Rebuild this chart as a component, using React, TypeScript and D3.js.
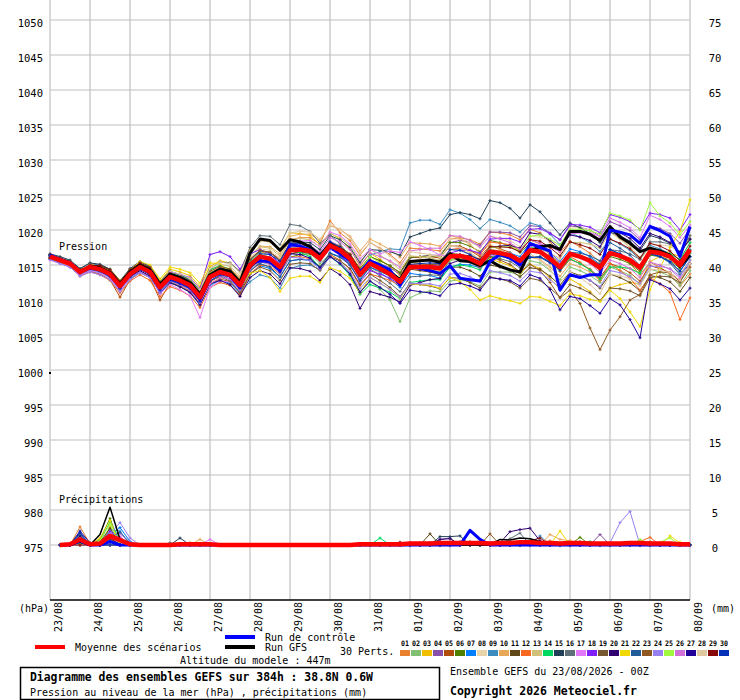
import { useMemo } from 'react';
import { scaleLinear, line } from 'd3';

// 6-hourly steps, 0h .. 384h (65 steps); dates at every 4th step
const dates = ['23/08', '24/08', '25/08', '26/08', '27/08', '28/08', '29/08', '30/08', '31/08',
  '01/09', '02/09', '03/09', '04/09', '05/09', '06/09', '07/09', '08/09'];
const pressureTicks = [975, 980, 985, 990, 995, 1000, 1005, 1010, 1015, 1020, 1025, 1030, 1035, 1040, 1045, 1050];
const precipTicks = [0, 5, 10, 15, 20, 25, 30, 35, 40, 45, 50, 55, 60, 65, 70, 75];

const pertLabels = ['01', '02', '03', '04', '05', '06', '07', '08', '09', '10', '11', '12', '13', '14', '15',
  '16', '17', '18', '19', '20', '21', '22', '23', '24', '25', '26', '27', '28', '29', '30'];
const pertColors = ['#e8802f', '#80c070', '#f0c000', '#8850a8', '#b04c0c', '#508000', '#0080ff', '#e8d4a8',
  '#3c8cc0', '#e8a858', '#604818', '#f86820', '#d0c078', '#00d860', '#204058', '#607078', '#e078f8',
  '#8020f8', '#785830', '#300070', '#f0d800', '#205c98', '#905820', '#9880f0', '#a0f840', '#d070d8',
  '#200098', '#e0c8a0', '#880808', '#0030b8'];

const meanPressure = [
  1016.2, 1015.7, 1015.2, 1014.0, 1014.7, 1014.4, 1013.7, 1012.0,
  1013.7, 1014.7, 1014.0, 1011.8, 1013.3, 1012.8, 1012.1, 1010.4,
  1013.3, 1014.0, 1013.6, 1012.1, 1015.0, 1016.2, 1015.9, 1014.7,
  1017.1, 1017.2, 1017.0, 1015.9, 1017.8, 1017.1, 1015.9, 1013.6,
  1015.2, 1014.5, 1013.7, 1012.6, 1014.7, 1014.7, 1014.7, 1014.5,
  1016.2, 1016.3, 1015.9, 1015.2, 1016.9, 1016.7, 1016.4, 1015.6,
  1017.1, 1016.9, 1015.9, 1014.7, 1016.6, 1016.2, 1015.6, 1014.6,
  1016.7, 1016.3, 1015.7, 1014.6, 1016.9, 1016.7, 1016.2, 1015.0,
  1017.2];

const controlPressure = [
  1016.4, 1015.8, 1015.3, 1014.1, 1014.6, 1014.3, 1013.6, 1011.9,
  1013.6, 1014.6, 1013.9, 1011.6, 1013.1, 1012.6, 1011.9, 1010.1,
  1013.2, 1013.9, 1013.4, 1011.8, 1015.2, 1015.6, 1015.5, 1014.2,
  1017.9, 1017.7, 1017.2, 1016.0, 1017.6, 1016.6, 1015.6, 1014.0,
  1015.6, 1015.0, 1014.3, 1012.1, 1014.8, 1014.5, 1014.2, 1013.8,
  1014.9, 1013.1, 1012.9, 1012.7, 1015.5, 1016.5, 1016.0, 1015.0,
  1018.1, 1017.5, 1017.0, 1011.4, 1013.6, 1013.2, 1013.6, 1013.6,
  1020.0, 1019.7, 1019.3, 1018.1, 1020.5, 1019.9, 1019.1, 1016.2,
  1020.5];

const gfsPressure = [
  1016.3, 1015.8, 1015.3, 1014.0, 1014.8, 1014.6, 1013.9, 1012.3,
  1014.0, 1015.0, 1014.3, 1012.2, 1013.7, 1013.2, 1012.5, 1010.8,
  1013.6, 1014.4, 1014.1, 1012.5, 1016.7, 1018.7, 1018.5, 1017.1,
  1018.6, 1018.3, 1017.6, 1016.3, 1018.0, 1017.2, 1016.0, 1013.5,
  1015.4, 1014.7, 1014.0, 1012.9, 1015.5, 1015.6, 1015.7, 1015.4,
  1016.6, 1015.6, 1015.5, 1014.9, 1015.6, 1014.8, 1014.3, 1014.0,
  1017.0, 1017.6, 1017.8, 1017.2, 1019.8, 1019.8, 1019.4, 1018.5,
  1020.5, 1019.0, 1018.1, 1016.9, 1017.4, 1017.0, 1016.4, 1014.8,
  1016.4];

const pert01 = [
  1016.5, 1015.9, 1015.3, 1014.0, 1014.6, 1014.1, 1013.3, 1011.5,
  1013.1, 1014.1, 1013.4, 1011.1, 1012.6, 1012.1, 1011.3, 1009.6,
  1012.5, 1013.5, 1013.4, 1012.2, 1015.3, 1016.8, 1016.8, 1015.9,
  1018.6, 1018.9, 1018.9, 1018.0, 1021.3, 1019.6, 1018.5, 1016.4,
  1018.2, 1017.4, 1016.5, 1015.3, 1017.4, 1017.3, 1017.2, 1017.0,
  1018.7, 1018.9, 1018.6, 1018.0, 1019.7, 1019.6, 1019.3, 1018.6,
  1020.1, 1019.6, 1018.3, 1016.8, 1018.4, 1017.6, 1016.7, 1015.4,
  1017.2, 1016.3, 1015.2, 1013.6, 1015.4, 1014.7, 1013.7, 1012.0,
  1013.7];
const pert02 = [
  1016.0, 1015.6, 1015.2, 1014.0, 1014.8, 1014.6, 1013.9, 1012.3,
  1014.0, 1015.1, 1014.5, 1012.4, 1013.9, 1013.5, 1012.8, 1011.1,
  1014.1, 1014.8, 1014.3, 1012.8, 1015.6, 1016.8, 1016.5, 1015.2,
  1017.6, 1017.3, 1016.7, 1015.2, 1016.6, 1015.5, 1013.9, 1011.2,
  1012.7, 1011.5, 1010.0, 1006.9, 1010.3, 1011.0, 1011.3, 1011.2,
  1012.7, 1012.9, 1012.6, 1012.0, 1014.0, 1014.0, 1014.0, 1013.5,
  1015.6, 1015.3, 1014.2, 1012.9, 1014.7, 1014.2, 1013.5, 1012.5,
  1014.7, 1014.2, 1013.5, 1012.3, 1014.4, 1014.0, 1013.4, 1012.1,
  1014.2];
const pert03 = [
  1016.3, 1015.9, 1015.5, 1014.4, 1015.2, 1015.0, 1014.4, 1012.8,
  1014.2, 1015.3, 1014.8, 1012.7, 1014.4, 1014.0, 1013.5, 1011.9,
  1014.8, 1015.6, 1015.3, 1014.0, 1017.1, 1018.5, 1018.3, 1017.3,
  1019.6, 1019.5, 1019.2, 1017.9, 1019.6, 1018.7, 1017.3, 1014.8,
  1016.7, 1015.8, 1014.8, 1013.5, 1015.4, 1015.2, 1015.0, 1014.6,
  1016.2, 1016.0, 1015.4, 1014.5, 1015.9, 1015.4, 1014.9, 1013.8,
  1015.1, 1014.5, 1013.1, 1011.5, 1013.0, 1012.2, 1011.2, 1009.8,
  1011.7, 1012.2, 1012.5, 1012.3, 1015.5, 1016.2, 1016.6, 1016.3,
  1019.2];
const pert04 = [
  1015.9, 1015.4, 1014.9, 1013.7, 1014.3, 1014.0, 1013.3, 1011.6,
  1013.3, 1014.4, 1013.8, 1011.7, 1013.4, 1013.0, 1012.5, 1010.9,
  1013.8, 1014.6, 1014.3, 1012.9, 1015.8, 1017.1, 1016.8, 1015.7,
  1018.1, 1018.1, 1017.8, 1016.6, 1018.4, 1017.7, 1016.4, 1014.2,
  1015.7, 1015.2, 1014.6, 1013.7, 1016.0, 1016.2, 1016.4, 1016.4,
  1018.2, 1018.5, 1018.3, 1017.8, 1019.7, 1019.7, 1019.6, 1019.0,
  1020.6, 1020.5, 1019.6, 1018.6, 1020.6, 1020.4, 1020.0, 1019.1,
  1021.2, 1020.6, 1019.9, 1018.6, 1020.6, 1020.2, 1019.5, 1018.1,
  1020.2];
const pert05 = [
  1016.4, 1015.8, 1015.1, 1013.6, 1014.1, 1013.7, 1012.9, 1010.4,
  1012.9, 1013.9, 1013.2, 1010.0, 1012.4, 1011.9, 1011.2, 1009.4,
  1012.3, 1013.0, 1012.6, 1011.2, 1014.1, 1015.4, 1015.2, 1014.1,
  1016.6, 1016.9, 1016.9, 1016.0, 1018.1, 1017.6, 1016.6, 1014.5,
  1016.2, 1015.6, 1014.9, 1013.9, 1016.1, 1016.1, 1016.2, 1016.0,
  1017.7, 1017.7, 1017.1, 1016.2, 1017.7, 1017.3, 1016.8, 1015.8,
  1017.1, 1016.7, 1015.5, 1014.1, 1015.8, 1015.2, 1014.4, 1013.2,
  1015.2, 1014.7, 1013.9, 1012.7, 1014.9, 1014.5, 1013.9, 1012.6,
  1014.7];
const pert06 = [
  1016.2, 1015.7, 1015.3, 1014.1, 1014.8, 1014.5, 1013.9, 1012.2,
  1013.9, 1014.9, 1014.2, 1012.0, 1013.4, 1012.9, 1012.1, 1010.4,
  1013.3, 1013.9, 1013.4, 1011.8, 1014.6, 1015.7, 1015.3, 1014.0,
  1016.1, 1016.5, 1016.6, 1015.7, 1017.8, 1017.4, 1016.5, 1014.4,
  1016.2, 1015.6, 1014.9, 1013.9, 1016.1, 1016.2, 1016.3, 1016.2,
  1018.2, 1018.2, 1017.7, 1016.9, 1018.5, 1018.2, 1017.7, 1016.8,
  1018.1, 1017.7, 1016.5, 1015.1, 1016.8, 1016.2, 1015.4, 1014.2,
  1016.2, 1015.8, 1015.2, 1014.1, 1016.4, 1016.2, 1015.7, 1014.5,
  1016.7];
const pert07 = [
  1015.8, 1015.3, 1014.7, 1013.5, 1014.2, 1013.9, 1013.2, 1011.4,
  1013.1, 1014.0, 1013.3, 1011.0, 1012.5, 1011.9, 1011.1, 1009.3,
  1012.1, 1012.8, 1012.4, 1010.9, 1013.7, 1014.9, 1014.5, 1013.3,
  1015.6, 1015.8, 1015.7, 1014.7, 1016.7, 1016.2, 1015.1, 1013.0,
  1014.7, 1013.9, 1013.0, 1011.8, 1013.8, 1013.6, 1013.5, 1013.1,
  1014.7, 1015.1, 1015.0, 1014.6, 1016.6, 1016.7, 1016.7, 1016.2,
  1018.1, 1017.8, 1016.8, 1015.5, 1017.3, 1016.9, 1016.2, 1015.1,
  1017.2, 1016.6, 1015.8, 1014.5, 1016.6, 1016.2, 1015.5, 1014.1,
  1016.2];
const pert08 = [
  1016.3, 1015.8, 1015.4, 1014.2, 1015.0, 1014.7, 1014.0, 1012.4,
  1014.1, 1015.1, 1014.4, 1012.3, 1013.8, 1013.3, 1012.7, 1011.0,
  1013.9, 1014.7, 1014.4, 1013.0, 1016.0, 1017.3, 1017.1, 1016.0,
  1018.6, 1018.4, 1017.9, 1016.5, 1018.0, 1016.9, 1015.4, 1012.8,
  1014.2, 1014.0, 1013.6, 1013.0, 1015.5, 1015.9, 1016.3, 1016.5,
  1018.7, 1018.7, 1018.3, 1017.5, 1019.1, 1018.9, 1018.5, 1017.6,
  1019.1, 1019.0, 1018.5, 1017.8, 1020.2, 1020.4, 1020.0, 1018.6,
  1019.7, 1018.8, 1017.7, 1016.1, 1017.9, 1017.9, 1017.7, 1016.8,
  1019.2];
const pert09 = [
  1016.5, 1016.0, 1015.6, 1014.4, 1015.2, 1015.0, 1014.3, 1012.6,
  1014.3, 1015.3, 1014.7, 1012.5, 1014.1, 1013.6, 1012.9, 1011.0,
  1013.7, 1013.8, 1012.9, 1011.0, 1012.6, 1013.6, 1013.2, 1011.7,
  1014.5, 1014.9, 1015.0, 1014.3, 1016.6, 1016.2, 1015.3, 1013.4,
  1016.4, 1016.9, 1017.3, 1017.2, 1021.0, 1021.4, 1021.4, 1020.8,
  1022.9, 1022.4, 1021.5, 1020.2, 1021.5, 1021.1, 1020.6, 1019.7,
  1021.0, 1020.6, 1019.4, 1017.9, 1019.6, 1019.0, 1018.2, 1016.9,
  1018.7, 1018.0, 1017.1, 1015.8, 1017.8, 1017.3, 1016.6, 1015.2,
  1017.2];
const pert10 = [
  1016.1, 1015.6, 1015.1, 1013.9, 1014.6, 1014.3, 1013.7, 1012.0,
  1013.7, 1014.8, 1014.1, 1011.9, 1013.5, 1013.1, 1012.5, 1010.8,
  1013.8, 1014.7, 1014.5, 1013.2, 1016.3, 1017.7, 1017.6, 1016.6,
  1019.1, 1019.4, 1019.4, 1018.5, 1020.6, 1020.1, 1019.1, 1017.0,
  1018.7, 1018.0, 1017.2, 1016.1, 1018.2, 1018.1, 1018.0, 1017.7,
  1019.2, 1018.8, 1017.9, 1016.7, 1017.9, 1017.2, 1016.4, 1015.1,
  1016.1, 1015.8, 1014.7, 1013.4, 1015.2, 1014.7, 1014.0, 1012.8,
  1014.7, 1014.7, 1014.5, 1013.8, 1016.5, 1016.7, 1016.6, 1015.8,
  1018.2];
const pert11 = [
  1016.2, 1015.7, 1015.1, 1013.9, 1014.5, 1014.2, 1013.5, 1011.8,
  1013.4, 1014.4, 1013.7, 1011.4, 1012.9, 1012.4, 1011.6, 1009.9,
  1012.7, 1013.4, 1013.0, 1011.5, 1014.5, 1015.7, 1015.4, 1014.2,
  1016.6, 1016.8, 1016.7, 1015.7, 1017.7, 1017.1, 1016.0, 1013.8,
  1015.7, 1014.8, 1013.8, 1012.5, 1014.4, 1014.2, 1014.0, 1013.6,
  1014.7, 1014.7, 1014.2, 1013.4, 1015.0, 1014.7, 1014.3, 1013.3,
  1014.6, 1014.4, 1013.4, 1012.1, 1014.0, 1013.5, 1012.8, 1011.7,
  1013.7, 1013.2, 1012.5, 1011.3, 1013.5, 1013.2, 1012.6, 1011.2,
  1013.2];
const pert12 = [
  1016.0, 1015.4, 1014.8, 1013.4, 1014.0, 1013.6, 1012.8, 1011.0,
  1012.7, 1013.6, 1012.8, 1010.5, 1011.9, 1011.4, 1010.6, 1008.9,
  1011.8, 1012.5, 1012.1, 1010.7, 1013.7, 1015.0, 1014.8, 1013.7,
  1016.1, 1016.2, 1015.9, 1014.8, 1016.5, 1015.7, 1014.4, 1012.0,
  1013.7, 1013.3, 1012.8, 1012.1, 1014.5, 1014.8, 1015.1, 1015.2,
  1017.2, 1017.4, 1017.1, 1016.5, 1018.3, 1018.1, 1017.9, 1017.1,
  1018.6, 1018.0, 1016.5, 1014.8, 1016.2, 1015.4, 1014.3, 1012.8,
  1015.2, 1014.2, 1013.1, 1011.4, 1013.2, 1012.3, 1011.1, 1007.2,
  1010.3];
const pert13 = [
  1016.4, 1015.9, 1015.5, 1014.3, 1015.1, 1014.8, 1014.2, 1012.5,
  1014.2, 1015.3, 1014.6, 1012.5, 1014.1, 1013.6, 1013.0, 1011.3,
  1014.3, 1015.1, 1014.8, 1013.4, 1016.3, 1017.6, 1017.4, 1016.3,
  1018.6, 1018.8, 1018.6, 1017.6, 1019.5, 1018.9, 1017.8, 1015.5,
  1017.2, 1016.4, 1015.5, 1014.3, 1016.3, 1016.2, 1016.0, 1015.7,
  1017.2, 1017.2, 1016.6, 1015.8, 1017.3, 1017.0, 1016.6, 1015.6,
  1017.1, 1017.3, 1016.7, 1015.9, 1018.2, 1018.2, 1018.0, 1017.4,
  1019.7, 1018.7, 1017.5, 1015.8, 1017.5, 1016.7, 1015.6, 1013.7,
  1015.7];
const pert14 = [
  1015.9, 1015.5, 1015.1, 1014.0, 1014.9, 1014.7, 1014.1, 1012.5,
  1014.0, 1015.1, 1014.5, 1012.4, 1014.0, 1013.6, 1013.0, 1011.3,
  1014.3, 1014.9, 1014.4, 1012.7, 1015.5, 1016.5, 1016.1, 1014.8,
  1017.1, 1016.8, 1016.2, 1014.7, 1016.2, 1015.1, 1013.5, 1010.8,
  1012.2, 1011.7, 1011.1, 1010.2, 1012.5, 1012.7, 1012.9, 1012.9,
  1014.7, 1015.0, 1014.8, 1014.3, 1016.2, 1016.2, 1016.1, 1015.5,
  1017.6, 1017.1, 1015.8, 1014.3, 1015.9, 1015.2, 1014.3, 1013.0,
  1014.7, 1014.7, 1014.5, 1013.8, 1016.5, 1016.7, 1016.6, 1015.8,
  1018.2];
const pert15 = [
  1016.6, 1016.2, 1015.7, 1014.5, 1015.3, 1015.1, 1014.4, 1012.7,
  1014.5, 1015.5, 1014.8, 1012.6, 1014.1, 1013.6, 1012.8, 1011.0,
  1013.8, 1014.6, 1014.2, 1012.8, 1015.7, 1017.0, 1016.8, 1015.6,
  1018.1, 1018.3, 1018.2, 1017.2, 1019.2, 1018.6, 1017.5, 1015.3,
  1017.2, 1017.1, 1016.9, 1016.4, 1019.0, 1019.5, 1020.0, 1020.3,
  1022.2, 1022.5, 1022.2, 1021.6, 1024.2, 1023.9, 1023.1, 1021.7,
  1023.6, 1022.6, 1021.0, 1019.3, 1021.0, 1020.3, 1019.5, 1018.2,
  1019.7, 1019.2, 1018.4, 1017.1, 1019.2, 1018.8, 1018.1, 1016.7,
  1018.7];
const pert16 = [
  1016.2, 1015.6, 1015.1, 1013.9, 1014.6, 1014.3, 1013.6, 1011.8,
  1013.5, 1014.6, 1014.2, 1012.0, 1013.7, 1013.4, 1012.9, 1011.4,
  1014.5, 1015.4, 1015.3, 1014.1, 1017.5, 1019.2, 1019.1, 1017.9,
  1020.8, 1020.6, 1019.8, 1018.1, 1019.3, 1018.0, 1016.3, 1013.6,
  1014.5, 1013.4, 1012.4, 1011.2, 1013.3, 1013.4, 1013.6, 1013.5,
  1015.7, 1015.8, 1015.4, 1014.6, 1016.2, 1015.9, 1015.5, 1014.6,
  1016.1, 1016.2, 1015.4, 1014.4, 1016.5, 1016.3, 1015.9, 1015.1,
  1017.2, 1017.0, 1016.6, 1015.8, 1018.3, 1018.3, 1018.0, 1016.9,
  1019.2];
const pert17 = [
  1015.7, 1015.2, 1014.7, 1013.5, 1014.2, 1013.9, 1013.1, 1011.3,
  1013.2, 1014.1, 1013.3, 1010.9, 1012.2, 1011.5, 1010.6, 1007.5,
  1011.8, 1012.7, 1012.6, 1011.4, 1014.6, 1016.2, 1016.2, 1015.3,
  1017.9, 1018.4, 1018.5, 1017.6, 1019.7, 1019.2, 1018.0, 1015.9,
  1017.2, 1016.6, 1017.0, 1016.8, 1018.3, 1017.8, 1017.2, 1016.4,
  1016.2, 1016.0, 1015.4, 1014.7, 1016.4, 1016.3, 1016.0, 1015.3,
  1017.6, 1018.0, 1017.6, 1016.9, 1019.4, 1019.6, 1019.6, 1019.1,
  1021.7, 1021.1, 1020.3, 1018.9, 1022.1, 1021.5, 1020.5, 1018.9,
  1020.7];
const pert18 = [
  1016.4, 1015.9, 1015.4, 1014.2, 1015.0, 1014.7, 1014.0, 1012.3,
  1014.0, 1015.0, 1014.4, 1012.3, 1014.0, 1013.7, 1013.2, 1011.6,
  1016.5, 1016.9, 1016.2, 1014.4, 1016.6, 1017.2, 1016.6, 1015.1,
  1017.4, 1017.3, 1016.9, 1015.6, 1017.3, 1016.4, 1015.0, 1012.6,
  1014.2, 1013.7, 1013.1, 1012.2, 1014.5, 1014.7, 1014.9, 1015.0,
  1016.7, 1017.1, 1017.1, 1016.7, 1018.7, 1018.8, 1018.8, 1018.3,
  1020.1, 1020.2, 1019.5, 1018.6, 1020.8, 1020.7, 1020.4, 1019.6,
  1022.2, 1021.8, 1021.2, 1020.1, 1022.4, 1022.2, 1021.7, 1020.0,
  1022.2];
const pert19 = [
  1016.1, 1015.6, 1015.2, 1014.0, 1014.8, 1014.5, 1013.9, 1012.2,
  1013.9, 1014.8, 1014.0, 1011.7, 1013.1, 1012.5, 1011.7, 1009.9,
  1012.8, 1013.3, 1012.7, 1011.0, 1013.7, 1014.7, 1014.2, 1012.8,
  1015.1, 1015.3, 1015.2, 1014.2, 1016.2, 1015.6, 1014.5, 1012.2,
  1013.7, 1012.8, 1011.8, 1010.5, 1012.4, 1012.2, 1012.0, 1011.6,
  1013.2, 1013.1, 1012.5, 1011.7, 1013.3, 1013.0, 1012.6, 1011.7,
  1013.1, 1012.8, 1011.7, 1010.4, 1012.2, 1011.7, 1011.0, 1009.9,
  1011.7, 1011.6, 1011.3, 1010.6, 1013.2, 1013.4, 1013.3, 1012.5,
  1015.2];
const pert20 = [
  1016.3, 1015.7, 1015.1, 1013.9, 1014.5, 1014.2, 1013.4, 1011.7,
  1013.3, 1014.2, 1013.4, 1011.1, 1012.5, 1011.9, 1011.1, 1009.3,
  1012.3, 1012.8, 1012.2, 1010.5, 1013.2, 1014.2, 1013.7, 1012.3,
  1014.6, 1014.5, 1014.1, 1012.8, 1014.5, 1013.6, 1012.2, 1008.8,
  1011.2, 1010.8, 1010.4, 1009.7, 1012.1, 1012.5, 1012.9, 1013.1,
  1015.2, 1015.7, 1015.7, 1015.4, 1017.5, 1017.7, 1017.8, 1017.4,
  1019.6, 1019.4, 1018.5, 1017.3, 1019.3, 1019.0, 1018.5, 1017.6,
  1020.2, 1019.6, 1018.8, 1017.4, 1019.5, 1019.0, 1018.2, 1016.8,
  1018.7];
const pert21 = [
  1016.2, 1015.8, 1015.4, 1014.2, 1015.0, 1014.8, 1014.2, 1012.6,
  1014.3, 1015.5, 1015.0, 1013.0, 1014.7, 1014.4, 1013.9, 1012.4,
  1015.3, 1015.2, 1014.0, 1011.7, 1013.8, 1014.2, 1013.2, 1011.2,
  1013.1, 1013.4, 1013.4, 1012.5, 1014.6, 1014.1, 1013.1, 1011.0,
  1013.2, 1012.4, 1011.5, 1010.3, 1012.3, 1012.2, 1012.1, 1011.7,
  1013.2, 1012.6, 1011.5, 1010.0, 1010.6, 1010.2, 1009.9, 1009.5,
  1010.5, 1010.4, 1009.8, 1009.2, 1010.9, 1010.6, 1010.1, 1009.8,
  1011.4, 1010.2, 1008.3, 1006.2, 1011.5, 1014.6, 1017.5, 1019.8,
  1024.3];
const pert22 = [
  1016.0, 1015.5, 1015.0, 1013.8, 1014.4, 1014.1, 1013.4, 1011.7,
  1013.4, 1014.4, 1013.8, 1011.6, 1013.2, 1012.8, 1012.2, 1010.6,
  1013.6, 1014.1, 1013.4, 1011.6, 1014.2, 1015.2, 1014.7, 1013.3,
  1015.6, 1015.8, 1015.7, 1014.7, 1016.7, 1016.1, 1015.0, 1012.8,
  1014.7, 1014.1, 1013.4, 1012.4, 1014.6, 1014.7, 1014.8, 1014.6,
  1016.4, 1016.4, 1015.9, 1015.1, 1016.6, 1016.3, 1015.9, 1015.0,
  1016.1, 1016.2, 1015.5, 1014.6, 1016.8, 1016.7, 1016.3, 1015.6,
  1018.2, 1017.4, 1016.4, 1014.9, 1016.8, 1016.2, 1015.3, 1013.6,
  1015.2];
const pert23 = [
  1016.5, 1016.0, 1015.5, 1014.3, 1014.9, 1014.5, 1013.8, 1012.1,
  1013.8, 1014.8, 1014.2, 1012.1, 1013.7, 1013.3, 1012.7, 1011.1,
  1014.1, 1014.8, 1014.4, 1012.9, 1015.8, 1017.1, 1016.8, 1015.6,
  1018.1, 1018.1, 1017.8, 1016.5, 1018.2, 1017.3, 1015.9, 1013.5,
  1015.2, 1014.6, 1013.8, 1012.8, 1015.0, 1015.0, 1015.1, 1015.0,
  1016.7, 1016.5, 1015.8, 1014.8, 1016.2, 1015.7, 1015.1, 1014.0,
  1015.1, 1014.2, 1012.5, 1010.3, 1011.4, 1009.5, 1006.0, 1002.9,
  1005.7, 1007.6, 1010.0, 1010.8, 1013.6, 1014.0, 1013.9, 1012.8,
  1015.2];
const pert24 = [
  1015.8, 1015.2, 1014.7, 1013.4, 1014.0, 1013.6, 1012.9, 1011.2,
  1012.9, 1013.9, 1013.2, 1011.1, 1012.7, 1012.2, 1011.6, 1009.9,
  1012.8, 1013.5, 1013.0, 1011.5, 1014.3, 1015.5, 1015.1, 1013.8,
  1016.1, 1016.0, 1015.6, 1014.4, 1016.1, 1015.3, 1014.0, 1011.6,
  1013.2, 1012.4, 1011.5, 1010.4, 1012.4, 1012.3, 1012.3, 1012.0,
  1013.7, 1013.8, 1013.3, 1012.6, 1014.2, 1013.9, 1013.5, 1012.7,
  1014.1, 1013.9, 1012.9, 1011.8, 1013.7, 1013.4, 1012.8, 1011.9,
  1014.2, 1013.9, 1013.3, 1012.3, 1014.8, 1014.8, 1014.5, 1013.4,
  1015.7];
const pert25 = [
  1016.3, 1015.8, 1015.3, 1014.1, 1014.8, 1014.5, 1013.9, 1012.2,
  1013.9, 1015.0, 1014.3, 1012.1, 1013.7, 1013.2, 1012.6, 1010.9,
  1013.8, 1014.4, 1014.0, 1012.4, 1015.3, 1016.4, 1016.0, 1014.7,
  1017.1, 1017.3, 1017.2, 1016.2, 1018.2, 1017.6, 1016.5, 1014.3,
  1016.2, 1015.3, 1014.3, 1013.0, 1014.9, 1014.6, 1014.4, 1014.0,
  1015.7, 1016.0, 1015.9, 1015.5, 1017.5, 1017.6, 1017.6, 1017.1,
  1019.1, 1019.3, 1018.7, 1017.8, 1020.1, 1020.1, 1019.9, 1019.4,
  1022.4, 1022.0, 1021.4, 1020.0, 1023.9, 1022.0, 1021.0, 1019.3,
  1021.2];
const pert26 = [
  1016.1, 1015.6, 1015.1, 1013.9, 1014.6, 1014.3, 1013.5, 1011.8,
  1013.5, 1014.4, 1013.7, 1011.4, 1012.8, 1012.2, 1011.4, 1009.6,
  1012.3, 1013.2, 1013.0, 1011.7, 1014.8, 1016.2, 1016.1, 1015.1,
  1017.6, 1017.8, 1017.8, 1016.8, 1018.9, 1018.3, 1017.2, 1015.0,
  1016.7, 1016.2, 1015.6, 1014.7, 1017.0, 1017.2, 1017.4, 1017.4,
  1019.2, 1019.1, 1018.5, 1017.6, 1019.1, 1018.7, 1018.2, 1017.2,
  1018.6, 1018.1, 1016.8, 1015.3, 1016.8, 1016.1, 1015.2, 1013.9,
  1015.7, 1015.2, 1014.5, 1013.2, 1015.4, 1015.0, 1014.4, 1013.1,
  1015.2];
const pert27 = [
  1016.4, 1015.9, 1015.4, 1014.2, 1014.8, 1014.5, 1013.8, 1012.0,
  1013.7, 1014.7, 1014.0, 1011.8, 1013.2, 1012.7, 1012.0, 1010.2,
  1013.1, 1013.7, 1013.3, 1011.7, 1014.6, 1015.7, 1015.3, 1014.0,
  1016.6, 1016.5, 1016.0, 1014.6, 1016.2, 1015.2, 1013.7, 1011.1,
  1012.7, 1011.8, 1010.8, 1009.5, 1011.4, 1011.2, 1011.0, 1010.6,
  1012.2, 1012.4, 1012.0, 1011.4, 1013.2, 1013.0, 1012.8, 1012.0,
  1013.6, 1013.1, 1011.5, 1008.6, 1010.5, 1010.2, 1009.2, 1008.1,
  1010.2, 1009.3, 1007.2, 1004.6, 1012.9, 1012.3, 1011.6, 1010.0,
  1011.7];
const pert28 = [
  1016.2, 1015.7, 1015.3, 1014.1, 1014.9, 1014.7, 1014.1, 1012.5,
  1014.0, 1015.1, 1014.5, 1012.4, 1014.1, 1013.7, 1013.1, 1011.5,
  1014.5, 1015.4, 1015.2, 1013.9, 1017.0, 1018.4, 1018.3, 1017.2,
  1019.6, 1019.8, 1019.7, 1018.7, 1020.7, 1020.1, 1018.9, 1016.6,
  1018.2, 1017.3, 1016.3, 1015.0, 1016.9, 1016.7, 1016.5, 1016.1,
  1017.7, 1017.5, 1016.8, 1015.8, 1017.2, 1016.7, 1016.1, 1015.0,
  1016.6, 1015.7, 1014.3, 1012.6, 1014.0, 1013.2, 1012.2, 1010.9,
  1013.7, 1013.5, 1013.0, 1012.0, 1014.4, 1014.3, 1013.9, 1012.8,
  1015.2];
const pert29 = [
  1016.0, 1015.6, 1015.2, 1014.1, 1015.0, 1014.9, 1014.3, 1012.6,
  1014.3, 1015.3, 1014.6, 1012.4, 1013.8, 1013.3, 1012.5, 1010.8,
  1013.6, 1014.2, 1013.7, 1012.1, 1014.9, 1016.1, 1015.8, 1014.6,
  1017.1, 1017.3, 1017.2, 1016.2, 1018.2, 1017.6, 1016.5, 1014.3,
  1015.7, 1015.0, 1014.1, 1013.0, 1015.0, 1014.9, 1014.9, 1014.6,
  1016.2, 1016.5, 1016.3, 1015.8, 1017.6, 1017.6, 1017.5, 1016.9,
  1018.6, 1018.4, 1017.5, 1016.3, 1018.3, 1017.9, 1017.4, 1016.5,
  1018.7, 1018.1, 1017.3, 1016.0, 1018.1, 1017.7, 1017.0, 1015.6,
  1017.7];
const pert30 = [
  1016.3, 1015.7, 1015.2, 1013.9, 1014.5, 1014.2, 1013.4, 1011.7,
  1013.4, 1014.4, 1013.6, 1011.4, 1012.8, 1012.3, 1011.6, 1009.8,
  1012.7, 1013.6, 1013.4, 1012.1, 1015.2, 1016.6, 1016.5, 1015.5,
  1018.1, 1018.1, 1017.8, 1016.6, 1018.3, 1017.5, 1016.2, 1013.8,
  1015.2, 1014.6, 1013.9, 1012.9, 1015.1, 1015.2, 1015.3, 1015.2,
  1017.2, 1017.1, 1016.5, 1015.6, 1017.1, 1016.6, 1016.1, 1015.0,
  1016.1, 1016.1, 1015.3, 1014.3, 1016.4, 1016.2, 1015.8, 1015.0,
  1017.2, 1016.6, 1015.8, 1014.5, 1016.6, 1016.2, 1015.5, 1014.1,
  1016.2];

const pertPressure = [pert01, pert02, pert03, pert04, pert05, pert06, pert07, pert08, pert09, pert10,
  pert11, pert12, pert13, pert14, pert15, pert16, pert17, pert18, pert19, pert20,
  pert21, pert22, pert23, pert24, pert25, pert26, pert27, pert28, pert29, pert30];

// precipitation (mm / 6h), steps 1..64
const meanPrecip = [
  0, 0.1, 0.8, 0.1, 0.2, 1.3, 0.7, 0.1,
  0, 0, 0, 0, 0.1, 0.1, 0.1, 0.1,
  0, 0, 0, 0, 0, 0, 0, 0,
  0, 0, 0, 0, 0, 0, 0.1, 0.1,
  0.1, 0.1, 0.1, 0.2, 0.2, 0.2, 0.3, 0.3,
  0.3, 0.3, 0.3, 0.2, 0.3, 0.3, 0.4, 0.4,
  0.3, 0.3, 0.2, 0.3, 0.3, 0.2, 0.2, 0.2,
  0.2, 0.3, 0.3, 0.2, 0.2, 0.2, 0.1, 0.1];

// [perturbation, step, mm]; all other steps are 0
const pertPrecipEvents: [number, number, number][] = [
  [1, 3, 2.6], [27, 3, 2.0], [9, 3, 1.5], [22, 3, 1.6], [17, 3, 1.0], [3, 3, 0.9], [12, 3, 1.2],
  [20, 3, 1.3], [30, 3, 1.8], [5, 3, 0.7], [13, 3, 0.5], [14, 3, 0.3], [8, 3, 0.6],
  [1, 4, 0.2], [27, 4, 0.3],
  [6, 5, 0.8], [21, 5, 1.0], [25, 5, 0.6], [14, 5, 0.5], [11, 5, 0.4],
  [6, 6, 3.8], [21, 6, 3.5], [14, 6, 3.3], [25, 6, 3.0], [3, 6, 2.6], [11, 6, 2.4], [2, 6, 2.1],
  [18, 6, 1.9], [10, 6, 1.8], [12, 6, 1.5], [7, 6, 1.4], [4, 6, 1.3], [26, 6, 1.2], [29, 6, 1.0],
  [19, 6, 0.9], [13, 6, 0.8], [16, 6, 0.6], [24, 6, 1.6], [22, 6, 1.1], [9, 6, 2.2], [17, 6, 1.7],
  [24, 7, 3.2], [7, 7, 2.5], [9, 7, 2.0], [17, 7, 1.6], [22, 7, 1.8], [18, 7, 1.0], [14, 7, 0.8],
  [26, 7, 1.2], [10, 7, 0.6], [2, 7, 0.7], [12, 7, 0.5],
  [24, 8, 1.0], [7, 8, 0.5], [17, 8, 0.4], [22, 8, 0.3],
  [16, 12, 0.3], [15, 13, 1.0], [28, 14, 0.3], [13, 14, 0.4], [10, 15, 0.8], [17, 16, 0.8],
  [14, 33, 1.0], [29, 35, 0.4], [12, 35, 0.3], [11, 36, 0.3], [19, 36, 0.3], [20, 37, 0.2],
  [22, 37, 0.3], [11, 38, 1.6], [15, 39, 1.2], [4, 39, 0.8], [20, 39, 0.8], [15, 40, 1.2],
  [4, 40, 1.0], [20, 40, 0.9], [5, 40, 0.4], [15, 41, 1.3], [16, 41, 0.5], [26, 41, 0.3],
  [6, 42, 0.5], [14, 42, 0.4], [18, 43, 0.2], [23, 44, 1.6], [20, 45, 0.3], [20, 46, 1.9],
  [16, 46, 0.9], [20, 47, 2.2], [16, 47, 1.7], [20, 48, 2.4], [29, 48, 0.6], [9, 49, 1.3],
  [20, 49, 0.6], [29, 49, 1.0], [10, 50, 1.5], [1, 50, 0.6], [12, 50, 0.4], [21, 51, 2.0],
  [10, 51, 0.8], [10, 52, 0.6], [3, 52, 0.6], [14, 52, 0.3], [6, 53, 1.1], [14, 53, 0.5],
  [1, 53, 0.4], [14, 54, 0.5], [4, 55, 1.5], [24, 56, 0.3], [24, 57, 3.2], [30, 57, 0.2],
  [24, 58, 4.8], [29, 58, 0.3], [25, 59, 0.8], [12, 59, 0.5], [12, 60, 1.1], [1, 60, 0.5],
  [25, 61, 0.4], [11, 61, 0.3], [21, 62, 1.3], [25, 62, 1.0], [3, 63, 0.4], [21, 63, 0.3]];
const controlPrecipEvents: [number, number][] = [[3, 0.6], [6, 0.5], [42, 2.1], [43, 0.8]];
const gfsPrecipEvents: [number, number][] = [
  [3, 0.4], [5, 1.5], [6, 5.4], [7, 0.8], [38, 0.4], [45, 0.8], [46, 0.7], [47, 1.0], [48, 0.9], [49, 0.5]];

const STEPS = 64;
const MONO = '"DejaVu Sans Mono", monospace';

function expandPrecip(events: [number, number][]) {
  const out = new Array(STEPS).fill(0);
  events.forEach(([step, mm]) => { out[step - 1] = mm; });
  return out;
}

export default function App() {
  const x = scaleLinear().domain([0, STEPS]).range([50, 690]);
  const yP = scaleLinear().domain([975, 1050]).range([545, 20]);
  const yR = scaleLinear().domain([0, 75]).range([545, 20]);

  const pLine = line<number>().x((_, i) => x(i)).y((d) => yP(d));
  const rLine = line<number>().x((_, i) => x(i + 1)).y((d) => yR(d));

  const crossPath = (vals: number[], off: number, ys: (v: number) => number) =>
    vals.map((v, i) => {
      const cx = x(i + off), cy = ys(v);
      return `M${cx - 1.5},${cy}h3M${cx},${cy - 1.5}v3`;
    }).join('');

  const pertPrecip = useMemo(() => pertPressure.map((_, m) =>
    expandPrecip(pertPrecipEvents.filter((e) => e[0] === m + 1).map((e) => [e[1], e[2]] as [number, number]))), []);
  const controlPrecip = useMemo(() => expandPrecip(controlPrecipEvents), []);
  const gfsPrecip = useMemo(() => expandPrecip(gfsPrecipEvents), []);

  return (
    <div style={{ position: 'absolute', left: 0, top: 0, width: 740, height: 700, background: '#fff' }}>
      <svg width={740} height={700} style={{ display: 'block' }} fontFamily={MONO}>
        <rect width={740} height={700} fill="#fff" />

        {/* grid */}
        {dates.map((d, k) => (
          <line key={d} x1={x(k * 4)} x2={x(k * 4)} y1={0} y2={600} stroke="#c0c0c0" strokeWidth={1.2} />
        ))}
        {pressureTicks.map((t) => (
          <line key={t} x1={50} x2={690} y1={yP(t)} y2={yP(t)} stroke="#c0c0c0" strokeWidth={1.2} />
        ))}
        <line x1={50} x2={690} y1={600} y2={600} stroke="#000" strokeWidth={1.5} />
        <rect x={49} y={372} width={2} height={2} fill="#000" />

        {/* axis labels */}
        {pressureTicks.map((t) => (
          <text key={t} x={43} y={yP(t) + 3} textAnchor="end" dominantBaseline="central" fontSize={10.5}>{t}</text>
        ))}
        {precipTicks.map((t) => (
          <text key={t} x={715} y={yR(t) + 3} textAnchor="middle" dominantBaseline="central" fontSize={10.5}>{t}</text>
        ))}
        {dates.map((d, k) => (
          <text key={d} transform={`translate(${x(k * 4) + 8},602) rotate(-90)`} textAnchor="end"
            dominantBaseline="central" fontSize={10}>{d}</text>
        ))}
        <text x={49} y={608} textAnchor="end" dominantBaseline="central" fontSize={10}>(hPa)</text>
        <text x={711} y={608} dominantBaseline="central" fontSize={10}>(mm)</text>
        <text x={59} y={246} dominantBaseline="central" fontSize={10}>Pression</text>
        <text x={59} y={499} dominantBaseline="central" fontSize={10}>Précipitations</text>

        {/* perturbations */}
        {pertPressure.map((vals, m) => (
          <g key={m} stroke={pertColors[m]} fill="none" strokeWidth={1}>
            <path d={pLine(vals) ?? ''} />
            <path d={crossPath(vals, 0, yP)} />
            <path d={rLine(pertPrecip[m]) ?? ''} />
            <path d={crossPath(pertPrecip[m], 1, yR)} />
          </g>
        ))}

        {/* GFS run and control run */}
        <g stroke="#000" fill="none" strokeWidth={3} strokeLinejoin="round">
          <path d={pLine(gfsPressure) ?? ''} />
          <path d={rLine(gfsPrecip) ?? ''} strokeWidth={1.5} />
        </g>
        <g stroke="#0000ff" fill="none" strokeWidth={3} strokeLinejoin="round">
          <path d={pLine(controlPressure) ?? ''} />
          <path d={rLine(controlPrecip) ?? ''} />
        </g>

        {/* ensemble mean */}
        <g stroke="#ff0000" fill="none" strokeWidth={4.5} strokeLinejoin="round">
          <path d={pLine(meanPressure) ?? ''} />
          <path d={rLine(meanPrecip) ?? ''} />
        </g>

        {/* legend */}
        <line x1={35} x2={65} y1={647} y2={647} stroke="#ff0000" strokeWidth={4} />
        <text x={75} y={647} dominantBaseline="central" fontSize={10}>Moyenne des scénarios</text>
        <line x1={225} x2={255} y1={637} y2={637} stroke="#0000ff" strokeWidth={4} />
        <text x={265} y={637.5} dominantBaseline="central" fontSize={10}>Run de contrôle</text>
        <line x1={225} x2={255} y1={647} y2={647} stroke="#000" strokeWidth={4} />
        <text x={265} y={647} dominantBaseline="central" fontSize={10}>Run GFS</text>
        <text x={180} y={660.5} dominantBaseline="central" fontSize={10}>Altitude du modele : 447m</text>
        <text x={340} y={651.5} dominantBaseline="central" fontSize={10}>30 Perts.</text>
        {pertLabels.map((l, m) => (
          <g key={l}>
            <text x={400 + m * 11 + 5} y={643} textAnchor="middle" dominantBaseline="central" fontSize={7.5}
              fontWeight="bold" textLength={8} lengthAdjust="spacingAndGlyphs">{l}</text>
            <rect x={400 + m * 11} y={650} width={10} height={6} fill={pertColors[m]} />
          </g>
        ))}

        <rect x={20.5} y={667.5} width={419} height={32} fill="none" stroke="#000" strokeWidth={1.5} />
        <text x={30} y={677} dominantBaseline="central" fontSize={11.4} fontWeight="bold">
          Diagramme des ensembles GEFS sur 384h : 38.8N 0.6W
        </text>
        <text x={30} y={692} dominantBaseline="central" fontSize={10}>
          Pression au niveau de la mer (hPa) , précipitations (mm)
        </text>
        <text x={450} y={671.5} dominantBaseline="central" fontSize={10}>Ensemble GEFS du 23/08/2026 - 00Z</text>
        <text x={450} y={691} dominantBaseline="central" fontSize={11.5} fontWeight="bold">
          Copyright 2026 Meteociel.fr
        </text>
      </svg>
    </div>
  );
}
